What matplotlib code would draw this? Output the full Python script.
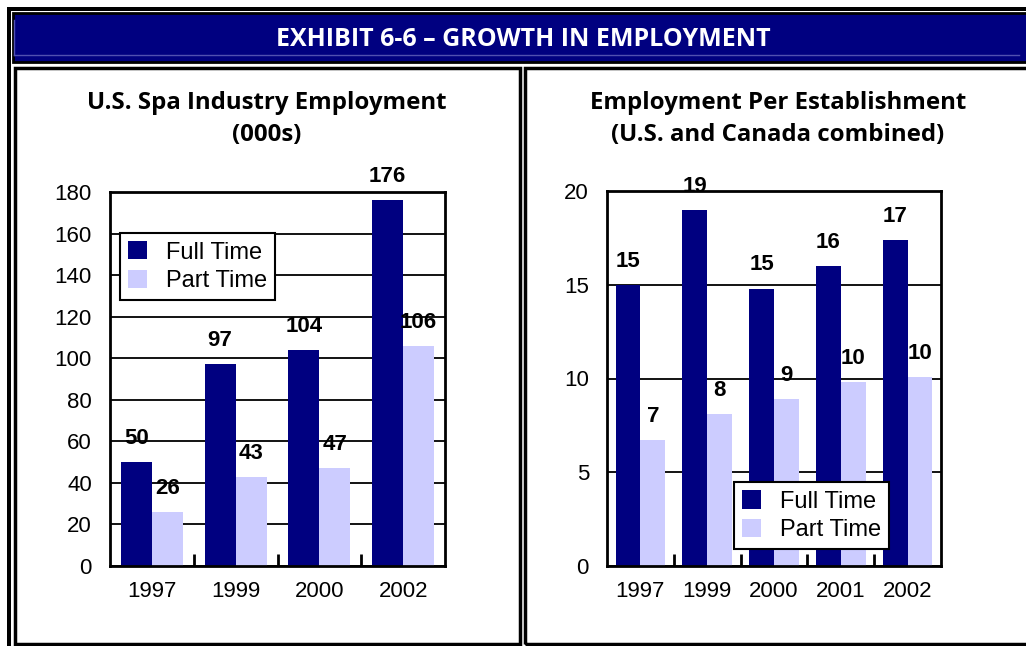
import numpy as np
import matplotlib.pyplot as plt
from matplotlib.patches import Rectangle, Patch

# Spa employment, thousands
years_us = ['1997', '1999', '2000', '2002']
full_us = [50, 97, 104, 176]
part_us = [26, 43, 47, 106]

# Employees per establishment
years_est = ['1997', '1999', '2000', '2001', '2002']
full_est = [15.0, 19.0, 14.8, 16.0, 17.4]
part_est = [6.7, 8.1, 8.9, 9.8, 10.1]

NAVY = '#000080'
LILAC = '#CCCCFF'
W, H = 1026, 646

plt.rcParams['font.family'] = ['Liberation Sans', 'DejaVu Sans']
fig = plt.figure(figsize=(W / 100, H / 100), dpi=100)


def px_rect(x0, y0, x1, y1, **kw):
    # rectangle given in pixel coordinates, origin at top-left
    r = Rectangle((x0 / W, 1 - y1 / H), (x1 - x0) / W, (y1 - y0) / H,
                  transform=fig.transFigure, **kw)
    fig.add_artist(r)
    return r


# outer frame and header band
px_rect(7, 7, 1030, 11, facecolor='black', edgecolor='none')
px_rect(7, 7, 11, 650, facecolor='black', edgecolor='none')
px_rect(13, 13, 1030, 62, facecolor=NAVY, edgecolor='black', linewidth=2)
fig.add_artist(plt.Line2D([14 / W, 1019 / W], [1 - 55 / H, 1 - 55 / H],
                          transform=fig.transFigure, color='#5050b0', lw=1))
fig.add_artist(plt.Line2D([14 / W, 14 / W], [1 - 20 / H, 1 - 55 / H],
                          transform=fig.transFigure, color='#5050b0', lw=1))
fig.text(523 / W, 1 - 39 / H, 'EXHIBIT 6-6 – GROWTH IN EMPLOYMENT',
         color='white', fontsize=18, fontweight='bold', family='Open Sans',
         ha='center', va='center')

# panel boxes
px_rect(14.5, 67.5, 519.5, 644, facecolor='none', edgecolor='black', linewidth=2.5)
px_rect(524.5, 67.5, 1035, 644, facecolor='none', edgecolor='black', linewidth=2.5)

title_kw = dict(fontsize=17.3, fontweight='bold', family='Open Sans',
                ha='center', va='center', linespacing=1.45)
fig.text(267 / W, 1 - 119 / H, 'U.S. Spa Industry Employment\n(000s)', **title_kw)
fig.text(778 / W, 1 - 119 / H, 'Employment Per Establishment\n(U.S. and Canada combined)', **title_kw)


def bar_panel(rect, years, full, part, ymax, step, legend_anchor, legend_loc):
    ax = fig.add_axes(rect)
    x = np.arange(len(years))
    bw = 0.37
    ax.bar(x - bw / 2, full, bw, color=NAVY, zorder=3, label='Full Time')
    ax.bar(x + bw / 2, part, bw, color=LILAC, zorder=3, label='Part Time')
    off = ymax * 0.035
    for xi, v in zip(x, full):
        ax.text(xi - bw / 2, v + off, f'{v:.0f}', ha='center', va='bottom',
                fontsize=16, fontweight='bold', zorder=4)
    for xi, v in zip(x, part):
        ax.text(xi + bw / 2, v + off, f'{v:.0f}', ha='center', va='bottom',
                fontsize=16, fontweight='bold', zorder=4)

    ax.set_xlim(-0.5, len(years) - 0.5)
    ax.set_ylim(0, ymax)
    ax.set_yticks(np.arange(0, ymax + step / 2, step))
    ax.set_xticks(x)
    ax.set_xticklabels(years)
    ax.set_xticks(np.arange(0.5, len(years) - 1, 1), minor=True)
    ax.tick_params(axis='x', which='major', length=0, pad=11, labelsize=16)
    ax.tick_params(axis='x', which='minor', direction='in', length=9, width=2)
    ax.tick_params(axis='y', length=0, pad=13, labelsize=16)
    ax.yaxis.grid(True, color='black', linewidth=1.3, zorder=1)
    ax.set_axisbelow(True)
    for s in ax.spines.values():
        s.set_linewidth(2)
        s.set_zorder(5)

    handles = [Patch(facecolor=NAVY), Patch(facecolor=LILAC)]
    leg = ax.legend(handles, ['Full Time', 'Part Time'], loc=legend_loc,
                    bbox_to_anchor=legend_anchor, borderaxespad=0,
                    fancybox=False, framealpha=1, edgecolor='black',
                    fontsize=17, handlelength=0.8, handleheight=0.8,
                    handletextpad=0.8, labelspacing=0.25, borderpad=0.35)
    leg.get_frame().set_linewidth(1.5)
    leg.set_zorder(6)
    return ax


bar_panel([110 / W, 1 - 566 / H, 335 / W, 374 / H], years_us, full_us, part_us,
          180, 20, (0.03, 0.89), 'upper left')
bar_panel([607 / W, 1 - 566 / H, 334 / W, 375 / H], years_est, full_est, part_est,
          20, 5, (0.38, 0.045), 'lower left')

fig.savefig('out.png', dpi=100)
